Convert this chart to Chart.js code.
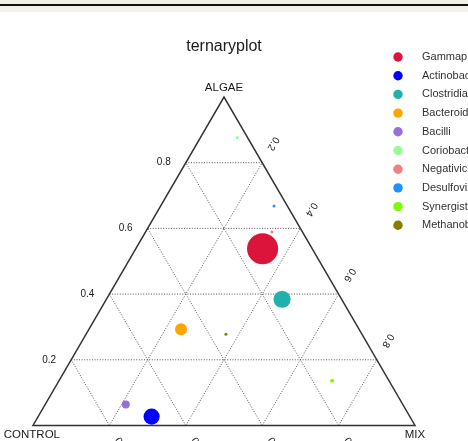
<!DOCTYPE html>
<html>
<head>
<meta charset="utf-8">
<script src="https://cdn.jsdelivr.net/npm/chart.js@4/dist/chart.umd.min.js"></script>
<style>
  html, body { margin: 0; padding: 0; background: #fff; }
  #wrap { width: 468px; height: 441px; position: relative; }
</style>
</head>
<body>
<div id="wrap"><canvas id="ternChart"></canvas></div>
<script>
// taxonomic classes and their share in each treatment
var classes = ['Gammaproteobacteria', 'Actinobacteria', 'Clostridia', 'Bacteroidia', 'Bacilli',
               'Coriobacteriia', 'Negativicutes', 'Desulfovibrionia', 'Synergistia', 'Methanobacteria'];
var control = [0.130, 0.676, 0.156, 0.466, 0.725, 0.027, 0.080, 0.035, 0.149, 0.356];
var algae   = [0.538, 0.027, 0.384, 0.293, 0.064, 0.877, 0.589, 0.668, 0.136, 0.278];
var mix     = [0.332, 0.297, 0.460, 0.241, 0.211, 0.096, 0.331, 0.297, 0.715, 0.366];
var abundance = [48, 13, 14.5, 7.2, 3.2, 0.45, 0.45, 0.45, 0.8, 0.45];
var gridTicks = [0.2, 0.4, 0.6, 0.8];

var colors = ['#DC143C', '#0000FF', '#20B2AA', '#FFA500', '#9370DB',
              '#98FB98', '#F08080', '#1E90FF', '#7CFC00', '#808000'];

var H = Math.sqrt(3) / 2;

// ternary -> cartesian (CONTROL bottom-left, MIX bottom-right, ALGAE top)
function toXY(c, a, m) {
  var s = c + a + m;
  return { x: (m + a / 2) / s, y: (a * H) / s };
}

var datasets = classes.map(function (name, i) {
  var p = toXY(control[i], algae[i], mix[i]);
  return {
    label: name,
    data: [{ x: p.x, y: p.y, r: 2.24 * Math.sqrt(abundance[i]) }],
    backgroundColor: colors[i],
    borderWidth: 0,
    clip: false
  };
});

var ternaryPlugin = {
  id: 'ternary',
  beforeDraw: function (chart) {
    var ctx = chart.ctx;
    ctx.save();
    ctx.fillStyle = '#fff';
    ctx.fillRect(0, 0, chart.width, chart.height);
    // header strip
    ctx.fillStyle = '#f3f0ea';
    ctx.fillRect(0, 0, chart.width, 12);
    ctx.fillStyle = '#111';
    ctx.fillRect(0, 4, chart.width, 2);
    ctx.restore();
  },
  beforeDatasetsDraw: function (chart) {
    var ctx = chart.ctx, sx = chart.scales.x, sy = chart.scales.y;
    function P(c, a, m) {
      var q = toXY(c, a, m);
      return [sx.getPixelForValue(q.x), sy.getPixelForValue(q.y)];
    }
    function line(p1, p2) {
      ctx.beginPath();
      ctx.moveTo(p1[0], p1[1]);
      ctx.lineTo(p2[0], p2[1]);
      ctx.stroke();
    }
    ctx.save();
    // dotted grid
    ctx.strokeStyle = '#555';
    ctx.lineWidth = 1;
    ctx.setLineDash([1, 1.6]);
    gridTicks.forEach(function (t) {
      line(P(1 - t, t, 0), P(0, t, 1 - t));   // constant algae
      line(P(1 - t, 0, t), P(0, 1 - t, t));   // constant mix
      line(P(t, 0, 1 - t), P(t, 1 - t, 0));   // constant control
    });
    ctx.setLineDash([]);
    // outline
    ctx.strokeStyle = '#333';
    ctx.lineWidth = 1.5;
    var A = P(1, 0, 0), B = P(0, 0, 1), C = P(0, 1, 0);
    ctx.beginPath();
    ctx.moveTo(A[0], A[1]);
    ctx.lineTo(B[0], B[1]);
    ctx.lineTo(C[0], C[1]);
    ctx.closePath();
    ctx.stroke();
    ctx.restore();
  },
  afterDraw: function (chart) {
    var ctx = chart.ctx, sx = chart.scales.x, sy = chart.scales.y;
    function P(c, a, m) {
      var q = toXY(c, a, m);
      return [sx.getPixelForValue(q.x), sy.getPixelForValue(q.y)];
    }
    var font = '"Liberation Sans", Arial, Helvetica, sans-serif';
    ctx.save();
    ctx.fillStyle = '#1a1a1a';
    ctx.textAlign = 'center';
    ctx.textBaseline = 'middle';

    // title
    ctx.font = '16px ' + font;
    ctx.fillText('ternaryplot', 224, 47);

    // vertex labels
    ctx.font = '11.5px ' + font;
    var A = P(1, 0, 0), B = P(0, 0, 1), C = P(0, 1, 0);
    ctx.fillText('ALGAE', C[0], C[1] - 9);
    ctx.textAlign = 'right';
    ctx.fillText('CONTROL', 60, A[1] + 9);
    ctx.textAlign = 'center';
    ctx.fillText('MIX', B[0], B[1] + 9);

    // tick labels
    ctx.font = '10px ' + font;
    var off = 22;
    gridTicks.forEach(function (t) {
      var l = P(1 - t, t, 0);
      ctx.fillText(t.toFixed(1), l[0] - off, l[1]);

      var r = P(0, 1 - t, t);
      ctx.save();
      ctx.translate(r[0] + off * 0.5, r[1] - off * H);
      ctx.rotate(2 * Math.PI / 3);
      ctx.fillText(t.toFixed(1), 0, 0);
      ctx.restore();

      var b = P(t, 0, 1 - t);
      ctx.save();
      ctx.translate(b[0] + off * 0.5, b[1] + off * H);
      ctx.rotate(Math.PI / 3);
      ctx.fillText(t.toFixed(1), 0, 0);
      ctx.restore();
    });

    // legend
    ctx.textAlign = 'left';
    ctx.font = '11px ' + font;
    chart.data.datasets.forEach(function (ds, i) {
      var y = 57 + i * 18.7;
      ctx.fillStyle = ds.backgroundColor;
      ctx.beginPath();
      ctx.arc(398, y, 4.7, 0, 2 * Math.PI);
      ctx.fill();
      ctx.fillStyle = '#333';
      ctx.fillText(ds.label, 422, y);
    });
    ctx.restore();
  }
};

new Chart(document.getElementById('ternChart'), {
  type: 'bubble',
  data: { datasets: datasets },
  options: {
    responsive: true,
    maintainAspectRatio: false,
    animation: false,
    layout: { padding: { left: 33, right: 53, top: 97, bottom: 13 } },
    scales: {
      x: { type: 'linear', min: 0, max: 1, display: false },
      y: { type: 'linear', min: 0, max: H, display: false }
    },
    plugins: {
      legend: { display: false },
      title: { display: false },
      tooltip: { enabled: false }
    }
  },
  plugins: [ternaryPlugin]
});
</script>
</body>
</html>
